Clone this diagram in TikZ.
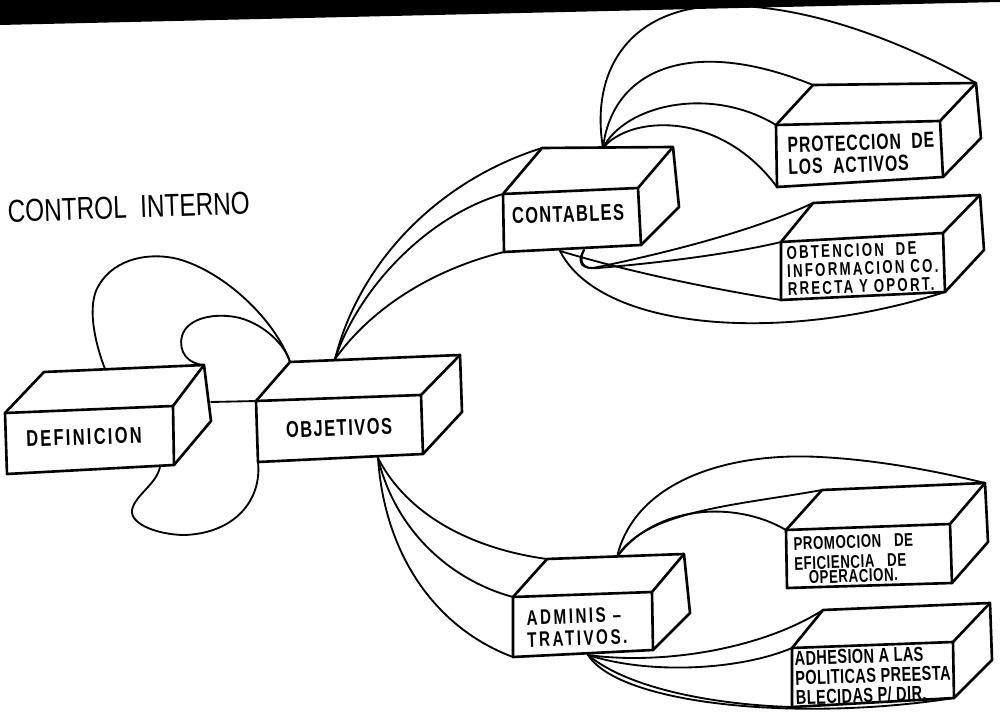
\documentclass[tikz,border=0pt]{standalone}
\usepackage{fontspec}
\setmainfont{Liberation Sans}
\newfontfamily\lblfont{Liberation Sans}[FakeStretch=0.72]
\newfontfamily\titlefont{Liberation Sans}[FakeStretch=0.77]
\usetikzlibrary{backgrounds}

% a hand-drawn block: front face, top face and right side
% #1 name, #2-#5 front corners (tl,tr,br,bl), #6-#8 back corners (tl,tr,br)
\newcommand\solidbox[8]{%
  \coordinate (#1-ftl) at #2; \coordinate (#1-ftr) at #3;
  \coordinate (#1-fbr) at #4; \coordinate (#1-fbl) at #5;
  \coordinate (#1-btl) at #6; \coordinate (#1-btr) at #7;
  \coordinate (#1-bbr) at #8;
  \filldraw[boxline, fill=white] (#1-ftl) -- (#1-btl) -- (#1-btr) -- (#1-bbr)
     -- (#1-fbr) -- (#1-fbl) -- cycle;
  \draw[boxline] (#1-ftl) -- (#1-ftr) -- (#1-fbr) (#1-ftr) -- (#1-btr);
}

\begin{document}
\begin{tikzpicture}[x=0.02cm, y=-0.02cm,
  boxline/.style={line width=1.5pt, line join=round, line cap=round},
  link/.style={line width=1.05pt, line cap=round},
  lbl/.style={inner sep=0pt, rotate=2, align=left},
  % #1 = letter spacing
  lblA/.style={lbl, font=\lblfont\bfseries\fontsize{13}{15}\selectfont\addfontfeatures{LetterSpace=#1}},
  lblB/.style={lbl, font=\lblfont\bfseries\fontsize{12.5}{12.5}\selectfont\addfontfeatures{LetterSpace=#1}},
  lblC/.style={lbl, font=\lblfont\bfseries\fontsize{10.5}{10.3}\selectfont\addfontfeatures{LetterSpace=#1}},
  lblD/.style={lbl, font=\lblfont\bfseries\fontsize{10.5}{11.3}\selectfont\addfontfeatures{LetterSpace=#1}},
  lblE/.style={lbl, font=\lblfont\bfseries\fontsize{11.5}{11.2}\selectfont\addfontfeatures{LetterSpace=#1}},
  lblF/.style={lbl, font=\lblfont\bfseries\fontsize{12}{12.5}\selectfont\addfontfeatures{LetterSpace=#1}},
]
\useasboundingbox (0,0) rectangle (1000,715);

% dark scan edge along the top
\fill[black] (0,0) -- (1000,0) -- (1000,2) -- (0,25) -- cycle;

% ---------- blocks ----------
\solidbox{def}{(5,413)}{(173,406)}{(174,465)}{(7,474)}{(44,372)}{(204,365)}{(211,421)}
\solidbox{obj}{(256,401)}{(421,395)}{(423,454)}{(258,462)}{(290,362)}{(460,355)}{(462,412)}
\solidbox{cont}{(503,194)}{(638,188)}{(641,245)}{(504,252)}{(542,148)}{(673,147)}{(679,207)}
\solidbox{prot}{(776,125)}{(940,121)}{(943,177)}{(777,187)}{(813,85)}{(976,83)}{(981,138)}
\solidbox{obt}{(781,242)}{(943,233)}{(945,292)}{(781,300)}{(813,203)}{(980,195)}{(984,250)}
\solidbox{adm}{(513,597)}{(652,592)}{(653,650)}{(513,657)}{(547,559)}{(684,554)}{(690,613)}
\solidbox{prom}{(786,530)}{(950,524)}{(952,583)}{(787,588)}{(822,490)}{(985,483)}{(988,542)}
\solidbox{adh}{(792,648)}{(953,642)}{(954,698)}{(792,707)}{(823,610)}{(990,603)}{(992,660)}

% attachment points on the block edges
\coordinate (def-a) at (107,374);
\coordinate (def-s) at (211,402);
\coordinate (def-b) at (160,467);
\coordinate (obj-s) at (257,401);
\coordinate (obj-t) at (335,359);
\coordinate (obj-b) at (378,458);
\coordinate (cont-t) at (603,148);
\coordinate (cont-b1) at (560,251);
\coordinate (cont-b3) at (584,250);
\coordinate (adm-t) at (617,557);
\coordinate (adm-b) at (588,655);

% ---------- connectors ----------
\begin{scope}[on background layer]
  % definicion <-> objetivos
  \draw[link] (def-a) .. controls (95,345) and (86,305) .. (99,285)
                      .. controls (115,258) and (150,252) .. (178,259)
                      .. controls (225,272) and (275,320) .. (obj-btl);
  \draw[link] (def-btr) .. controls (188,364) and (178,352) .. (182,336)
                        .. controls (187,318) and (215,312) .. (240,318)
                        .. controls (265,325) and (285,345) .. (obj-btl);
  \draw[link] (def-b) .. controls (156,485) and (135,495) .. (132,510)
                      .. controls (130,525) and (160,535) .. (185,535)
                      .. controls (235,533) and (262,500) .. (obj-fbl);
  \draw[link] (def-s) -- (obj-s);

  % objetivos -> contables
  \draw[link] (obj-t) .. controls (360,260) and (440,180) .. (cont-btl);
  \draw[link] (obj-t) .. controls (360,285) and (430,215) .. (cont-ftl);
  \draw[link] (obj-t) .. controls (370,310) and (430,270) .. (cont-fbl);

  % contables -> proteccion
  \draw[link] (cont-t) .. controls (590,70) and (630,10) .. (715,6)
                       .. controls (800,2) and (900,40) .. (prot-btr);
  \draw[link] (cont-t) .. controls (612,70) and (690,35) .. (prot-btl);
  \draw[link] (cont-t) .. controls (625,105) and (710,85) .. (prot-ftl);
  \draw[link] (cont-t) .. controls (630,115) and (720,110) .. (prot-fbl);

  % contables -> obtencion
  \draw[link] (cont-b1) .. controls (600,330) and (780,345) .. (obt-fbr);
  \draw[link] (cont-b1) .. controls (640,275) and (720,290) .. (obt-fbl);
  \draw[link] (cont-b3) .. controls (578,262) and (583,270) .. (598,268)
                        .. controls (670,262) and (740,252) .. (obt-ftl);
  \draw[link] (cont-b3) .. controls (576,262) and (582,271) .. (598,267)
                        .. controls (680,250) and (760,228) .. (obt-btl);

  % objetivos -> administrativos
  \draw[link] (obj-b) .. controls (410,520) and (480,550) .. (adm-btl);
  \draw[link] (obj-b) .. controls (395,530) and (450,580) .. (adm-ftl);
  \draw[link] (obj-b) .. controls (385,560) and (440,630) .. (adm-fbl);

  % administrativos -> promocion
  \draw[link] (adm-t) .. controls (635,480) and (730,452) .. (820,457)
                      .. controls (880,460) and (940,472) .. (prom-btr);
  \draw[link] (adm-t) .. controls (645,510) and (740,505) .. (prom-btl);
  \draw[link] (adm-t) .. controls (655,505) and (735,500) .. (prom-ftl);

  % administrativos -> adhesion
  \draw[link] (adm-b) .. controls (660,665) and (760,650) .. (adh-btl);
  \draw[link] (adm-b) .. controls (650,675) and (740,670) .. (adh-ftl);
  \draw[link] (adm-b) .. controls (630,690) and (720,705) .. (adh-fbl);
  \draw[link] (adm-b) .. controls (620,705) and (800,722) .. (adh-fbr);
\end{scope}

% ---------- texts ----------
\node[inner sep=0pt, anchor=north west, rotate=2,
      font=\titlefont\fontsize{18}{20}\selectfont] (title) at (7,200) {CONTROL\ \ INTERNO};

\node[lblA=10] (def) at (84,437) {DEFINICION};
\node[lblA=6.5] (obj) at (339,428) {OBJETIVOS};
\node[lblA=6] (cont) at (568,214) {CONTABLES};
\node[lblB=4, anchor=north west] (prot) at (787,137)
  {PROTECCION\ \ DE\\LOS\ \ ACTIVOS};
\node[lblC=12, anchor=north west] (obt) at (786,246)
  {OBTENCION\ \ DE\\INFORMACION CO.\\RRECTA Y OPORT.};
\node[lblD=3, anchor=north west] (prom) at (793,537)
  {PROMOCION\ \ \ DE\\EFICIENCIA\ \ \ DE\\[-3.2pt]\hspace*{8pt}OPERACION.};
\node[lblE=2, anchor=north west] (adh) at (794,651)
  {ADHESION A LAS\\POLITICAS PREESTA\\BLECIDAS P/ DIR.};
\node[lblF=12, anchor=north west] (adm) at (526,610)
  {ADMINIS –\\TRATIVOS.};
\end{tikzpicture}
\end{document}
